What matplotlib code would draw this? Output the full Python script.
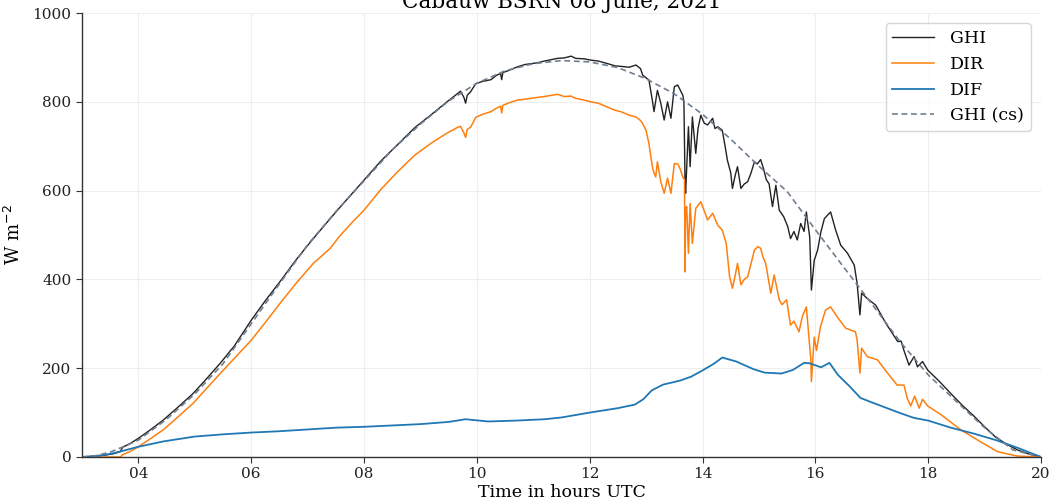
import matplotlib
matplotlib.use("Agg")
import matplotlib.pyplot as plt
from matplotlib.ticker import FuncFormatter, MultipleLocator

# ---- data (hours UTC, W m-2) ----
t_ghi = [3.00, 3.30, 3.55, 3.68, 3.72, 3.85, 4.00, 4.20, 4.44, 4.70, 4.97, 5.20, 5.45, 5.70,
         6.00, 6.25, 6.51, 6.80, 7.10, 7.40, 7.57, 7.80, 8.00, 8.30, 8.59, 8.90, 9.18, 9.45,
         9.65, 9.71, 9.77, 9.80, 9.83, 9.89, 9.98, 10.10, 10.25, 10.35, 10.42, 10.44, 10.46,
         10.55, 10.72, 10.85, 11.07, 11.20, 11.43, 11.55, 11.67, 11.75, 11.90, 12.02, 12.15,
         12.32, 12.45, 12.55, 12.70, 12.82, 12.90, 12.94, 13.05, 13.11, 13.14, 13.20, 13.26,
         13.32, 13.38, 13.44, 13.50, 13.56, 13.65, 13.67, 13.69, 13.70, 13.75, 13.78, 13.82,
         13.88, 13.92, 13.97, 14.03, 14.09, 14.18, 14.22, 14.27, 14.35, 14.40, 14.44, 14.50,
         14.53, 14.58, 14.62, 14.68, 14.74, 14.80, 14.86, 14.92, 14.97, 15.03, 15.08, 15.13,
         15.18, 15.24, 15.30, 15.36, 15.44, 15.51, 15.56, 15.62, 15.68, 15.74, 15.80, 15.84,
         15.90, 15.93, 15.98, 16.04, 16.10, 16.16, 16.27, 16.36, 16.45, 16.57, 16.69, 16.74,
         16.79, 16.82, 16.92, 17.07, 17.25, 17.40, 17.46, 17.52, 17.57, 17.66, 17.75, 17.81,
         17.90, 17.99, 18.20, 18.40, 18.60, 18.82, 19.00, 19.20, 19.40, 19.58, 19.80, 20.00]
ghi = [0, 2, 7, 12, 22, 30, 42, 60, 83, 112, 143, 175, 211, 250,
       308, 352, 395, 445, 492, 537, 562, 595, 624, 667, 703, 742, 770, 798,
       818, 824, 810, 797, 815, 823, 841, 846, 850, 860, 864, 850, 866,
       870, 879, 884, 888, 892, 898, 899, 903, 898, 897, 894, 892,
       886, 881, 880, 878, 883, 875, 860, 849, 804, 778, 826, 797,
       759, 800, 763, 834, 838, 815, 800, 616, 594, 744, 654, 766,
       684, 740, 770, 752, 748, 763, 740, 744, 736, 700, 669, 640,
       605, 635, 654, 605, 615, 620, 640, 665, 660, 670, 650, 625,
       615, 564, 612, 556, 541, 519, 492, 508, 489, 526, 508, 552,
       495, 376, 443, 466, 508, 537, 552, 511, 477, 459, 432, 391,
       320, 369, 357, 342, 301, 272, 260, 261, 240, 207, 226, 203,
       215, 196, 170, 143, 117, 91, 68, 44, 28, 16, 6, 0]

t_dir = [3.00, 3.68, 3.72, 3.85, 4.00, 4.20, 4.44, 4.70, 4.97, 5.20, 5.45, 5.70, 6.00, 6.25,
         6.51, 6.80, 7.10, 7.40, 7.57, 7.80, 8.00, 8.30, 8.59, 8.90, 9.18, 9.45, 9.65, 9.71,
         9.77, 9.80, 9.83, 9.89, 9.98, 10.10, 10.25, 10.35, 10.42, 10.44, 10.46, 10.55, 10.72,
         10.85, 11.07, 11.20, 11.43, 11.55, 11.67, 11.75, 11.90, 12.02, 12.15, 12.32, 12.45,
         12.55, 12.70, 12.82, 12.90, 12.94, 13.00, 13.05, 13.11, 13.14, 13.17, 13.20, 13.26,
         13.32, 13.38, 13.44, 13.50, 13.56, 13.60, 13.65, 13.68, 13.69, 13.70, 13.72, 13.75,
         13.78, 13.82, 13.88, 13.97, 14.09, 14.18, 14.27, 14.35, 14.42, 14.48, 14.53, 14.58,
         14.62, 14.68, 14.74, 14.80, 14.92, 14.98, 15.03, 15.07, 15.12, 15.21, 15.27, 15.36,
         15.41, 15.49, 15.56, 15.62, 15.71, 15.77, 15.84, 15.92, 15.93, 15.98, 16.02, 16.09,
         16.18, 16.27, 16.39, 16.54, 16.71, 16.74, 16.79, 16.82, 16.92, 17.10, 17.28, 17.45,
         17.57, 17.63, 17.69, 17.76, 17.84, 17.90, 17.99, 18.23, 18.58, 18.93, 19.23, 19.58,
         20.00]
dir_ = [0, 0, 5, 12, 23, 40, 61, 90, 121, 153, 188, 222, 263, 303,
        346, 392, 436, 470, 498, 530, 556, 603, 642, 680, 706, 728, 742, 745,
        730, 720, 738, 743, 765, 772, 778, 786, 790, 775, 792, 797, 804,
        806, 810, 812, 817, 812, 813, 808, 804, 800, 797, 788, 781,
        778, 770, 766, 758, 751, 735, 706, 654, 640, 631, 665, 620,
        594, 628, 594, 661, 660, 650, 631, 625, 417, 560, 564, 459,
        571, 481, 560, 575, 534, 549, 522, 511, 481, 406, 380, 410,
        436, 388, 400, 406, 466, 474, 470, 451, 436, 369, 410, 354,
        343, 354, 297, 306, 282, 317, 338, 220, 170, 270, 240, 293,
        331, 338, 315, 290, 282, 264, 189, 245, 226, 219, 189, 162,
        162, 132, 115, 137, 110, 130, 115, 95, 61, 34, 12, 2,
        0]

t_dif = [3.00, 3.30, 3.50, 3.70, 4.00, 4.44, 5.00, 5.50, 6.00, 6.50, 7.00, 7.50, 8.00, 8.50,
         9.00, 9.50, 9.80, 10.20, 10.70, 11.20, 11.50, 12.00, 12.50, 12.80, 12.95, 13.10, 13.30,
         13.60, 13.80, 14.00, 14.20, 14.35, 14.60, 14.90, 15.10, 15.40, 15.60, 15.80, 15.90,
         16.10, 16.25, 16.40, 16.60, 16.80, 17.00, 17.50, 17.75, 18.00, 18.40, 18.80, 19.20,
         19.60, 20.00]
dif = [0, 3, 7, 13, 23, 35, 46, 51, 55, 58, 62, 66, 68, 71,
       74, 79, 85, 80, 82, 85, 89, 100, 110, 118, 130, 150, 163,
       172, 181, 195, 210, 224, 215, 198, 190, 188, 196, 212, 211,
       202, 212, 185, 160, 133, 123, 99, 88, 82, 66, 53, 38,
       20, 0]

t_cs = [3.00, 3.25, 3.50, 3.75, 4.00, 4.50, 5.00, 5.50, 6.00, 6.50, 7.00, 7.50, 8.00, 8.50,
        9.00, 9.50, 10.00, 10.50, 11.00, 11.50, 12.00, 12.50, 13.00, 13.50, 14.00, 14.50,
        15.00, 15.50, 16.00, 16.50, 17.00, 17.50, 18.00, 18.50, 19.00, 19.50, 20.00]
ghi_cs = [0, 3, 11, 24, 38, 85, 142, 210, 300, 390, 478, 553, 622, 692,
          750, 802, 842, 870, 886, 893, 890, 877, 852, 818, 772, 716,
          655, 598, 512, 428, 345, 260, 185, 125, 66, 16, 0]

title = "Cabauw BSRN 08 June, 2021"
xticks = [4, 6, 8, 10, 12, 14, 16, 18, 20]

# ---- plot ----
plt.rcParams["font.family"] = ["DejaVu Serif"]
fig = plt.figure(figsize=(10.51, 5.03), dpi=100)
ax = fig.add_axes([0.078, 0.0915, 0.9125, 0.8825])

ax.plot(t_ghi, ghi, color="#222222", lw=1.0, label="GHI")
ax.plot(t_dir, dir_, color="#ff7f0e", lw=1.1, label="DIR")
ax.plot(t_dif, dif, color="#1f77b4", lw=1.3, label="DIF")
ax.plot(t_cs, ghi_cs, color="#6f7f90", lw=1.2, ls=(0, (3.5, 2.2)), label="GHI (cs)")

ax.set_xlim(3.0, 20.0)
ax.set_ylim(0, 1000)
ax.set_xticks(xticks)
ax.xaxis.set_major_formatter(FuncFormatter(lambda v, p: f"{int(round(v)):02d}"))
ax.yaxis.set_major_locator(MultipleLocator(200))

ax.grid(True, color="#eeeeee", lw=0.8)
ax.set_axisbelow(True)
for s in ("top", "right"):
    ax.spines[s].set_visible(False)
for s in ("left", "bottom"):
    ax.spines[s].set_color("#333333")
    ax.spines[s].set_linewidth(1.0)
ax.tick_params(axis="both", labelsize=11, length=4, color="#333333", labelcolor="#222222")

ax.set_xlabel("Time in hours UTC", fontsize=12.6, labelpad=2)
ax.set_ylabel("W m$^{-2}$", fontsize=13, labelpad=6)
ax.set_title(title, fontsize=15.5, pad=3)

leg = ax.legend(loc="upper right", fontsize=12.5, frameon=True, fancybox=True,
                borderaxespad=0.6, handlelength=2.4, handletextpad=0.9)
leg.get_frame().set_edgecolor("#cccccc")

fig.savefig("out.png", dpi=100)
